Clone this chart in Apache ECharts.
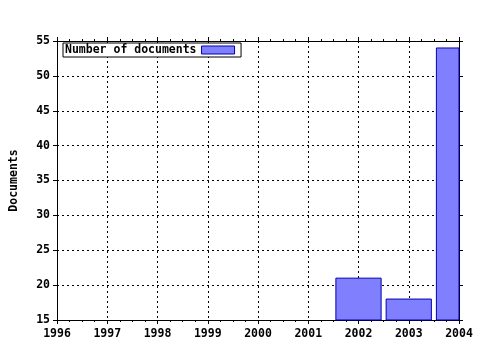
<!DOCTYPE html>
<html><head><meta charset="utf-8">
<script src="https://cdn.jsdelivr.net/npm/echarts@6/dist/echarts.min.js"></script>
<style>html,body{margin:0;padding:0;background:#fff}#c{width:480px;height:350px}</style>
</head><body><div id="c"></div>
<script>
const years = [2002, 2003, 2004];
const documents = [21, 18, 54];
const seriesName = 'Number of documents';
const xMin = 1996, xMax = 2004;
const yMin = 15, yMax = 55, yStep = 5;
const barFraction = 0.9;

const FONT = 'DejaVu Sans Mono';
const lbl = {color:'#000', fontFamily:FONT, fontWeight:'bold', fontSize:11.5};
const chart = echarts.init(document.getElementById('c'), null, {renderer:'canvas'});
const baseX = {
  type:'value', min:xMin, max:xMax, interval:1,
  axisLine:{show:true, onZero:false, lineStyle:{color:'#000', width:1}},
  axisTick:{show:true, length:4, lineStyle:{color:'#000'}},
  minorTick:{show:true, splitNumber:4, length:2, lineStyle:{color:'#000'}},
};
const baseY = {
  type:'value', min:yMin, max:yMax, interval:yStep,
  axisLine:{show:true, onZero:false, lineStyle:{color:'#000', width:1}},
  axisTick:{show:true, length:4, lineStyle:{color:'#000'}},
};
const barStyle = {color:'#8080ff', borderColor:'#0000b0', borderWidth:1};
chart.setOption({
  animation:false,
  backgroundColor:'#fff',
  grid:{left:57, right:21, top:41, bottom:30, containLabel:false},
  legend:{
    show:true, left:63, top:43, orient:'horizontal', align:'right',
    padding:[1,6,1,2], borderColor:'#000', borderWidth:1, backgroundColor:'#fff',
    itemWidth:33, itemHeight:8, icon:'rect',
    itemStyle:barStyle,
    textStyle:Object.assign({}, lbl, {padding:[0,0,0,0]}),
    data:[seriesName]
  },
  xAxis:[
    Object.assign({}, baseX, {position:'bottom',
      axisLabel:Object.assign({}, lbl, {margin:8, formatter:v=>String(v)}),
      splitLine:{show:true, lineStyle:{color:'#000', type:[2,3], width:1}}}),
    Object.assign({}, baseX, {position:'top', axisLabel:{show:false}, splitLine:{show:false}})
  ],
  yAxis:[
    Object.assign({}, baseY, {position:'left', name:'Documents', nameLocation:'middle', nameGap:37,
      nameTextStyle:lbl, nameRotate:90,
      axisLabel:Object.assign({}, lbl, {margin:7}),
      splitLine:{show:true, lineStyle:{color:'#000', type:[2,3], width:1}}}),
    Object.assign({}, baseY, {position:'right', axisLabel:{show:false}, splitLine:{show:false}})
  ],
  series:[{
    name:seriesName, type:'custom', xAxisIndex:0, yAxisIndex:0,
    itemStyle:barStyle,
    encode:{x:0, y:1},
    renderItem:function(params, api){
      const x = api.value(0), v = api.value(1);
      const p0 = api.coord([x - barFraction/2, yMin]);
      const p1 = api.coord([x + barFraction/2, v]);
      const rect = {x:p0[0], y:p1[1], width:p1[0]-p0[0], height:p0[1]-p1[1]};
      const cs = params.coordSys;
      const shape = echarts.graphic.clipRectByRect(rect, {x:cs.x, y:cs.y, width:cs.width, height:cs.height});
      if (!shape) return null;
      return {type:'rect', shape:shape, style:api.style(barStyle)};
    },
    data:years.map((y,i)=>[y, documents[i]])
  }]
});
</script></body></html>
